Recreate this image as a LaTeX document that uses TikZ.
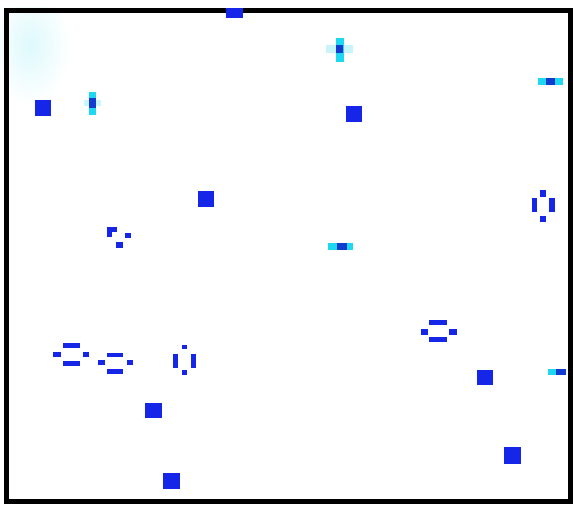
\documentclass[tikz,border=0pt]{standalone}
\usepackage{xcolor}
\definecolor{cellblue}{RGB}{22, 38, 232}
\definecolor{coreblue}{RGB}{18, 60, 205}
\definecolor{cellcyan}{RGB}{30, 215, 240}
\definecolor{cellglow}{RGB}{200, 245, 250}
\usepackage{tikz}

\begin{document}
\begin{tikzpicture}[
  x=1pt, y=-1pt,
  live/.style={fill=cellblue},
  core/.style={fill=coreblue},
  fade/.style={fill=cellcyan},
  glow/.style={fill=cellglow},
  frame/.style={draw=black, line width=5pt}
]
\useasboundingbox (0,0) rectangle (573,504);
\fill[white] (0,0) rectangle (573,504);

% faint tint in the upper left corner
\shade[inner color=cellglow!60, outer color=white] (30,45) ellipse (40 and 60);
\fill[white] (0,0) rectangle (573,7);

% frame
\draw[frame] (6.5,10) rectangle (570.5,501.5);

% blocks
\fill[live] (226,8) rectangle (243,18);
\fill[live] (35,100) rectangle (51,116);
\fill[live] (346,106) rectangle (362,122);
\fill[live] (198,191) rectangle (214,207);
\fill[live] (477,370) rectangle (493,385);
\fill[live] (145,403) rectangle (162,418);
\fill[live] (163,473) rectangle (180,489);
\fill[live] (504,447) rectangle (521,464);

% blinkers
\fill[glow] (84,100) rectangle (101,106);
\fill[fade] (89,92) rectangle (96,115);
\fill[core] (89,98) rectangle (96,108);

\fill[glow] (326,45) rectangle (353,53);
\fill[fade] (336,38) rectangle (344,62);
\fill[core] (336,45) rectangle (343,53);

\fill[fade] (538,78) rectangle (563,85);
\fill[core] (546,78) rectangle (555,85);

\fill[fade] (328,243) rectangle (353,250);
\fill[core] (337,243) rectangle (347,250);

\fill[fade] (548,369) rectangle (557,375);
\fill[core] (556,369) rectangle (566,375);

% boat
\fill[live] (107,227) rectangle (117,232);
\fill[live] (107,227) rectangle (112,237);
\fill[live] (125,233) rectangle (131,238);
\fill[live] (116,242) rectangle (123,248);

% beehives, lying
\fill[live] (63,343) rectangle (80,348);
\fill[live] (53,352) rectangle (61,357);
\fill[live] (83,352) rectangle (89,357);
\fill[live] (63,361) rectangle (80,366);

\fill[live] (107,353) rectangle (123,357);
\fill[live] (98,360) rectangle (105,365);
\fill[live] (127,360) rectangle (133,365);
\fill[live] (107,369) rectangle (123,374);

\fill[live] (429,320) rectangle (447,325);
\fill[live] (421,329) rectangle (428,335);
\fill[live] (449,329) rectangle (457,335);
\fill[live] (429,337) rectangle (447,342);

% beehives, standing
\fill[live] (182,345) rectangle (187,349);
\fill[live] (173,354) rectangle (178,368);
\fill[live] (191,354) rectangle (196,368);
\fill[live] (182,370) rectangle (187,375);

\fill[live] (540,190) rectangle (546,197);
\fill[live] (532,198) rectangle (537,212);
\fill[live] (549,198) rectangle (555,212);
\fill[live] (540,216) rectangle (546,222);
\end{tikzpicture}
\end{document}
